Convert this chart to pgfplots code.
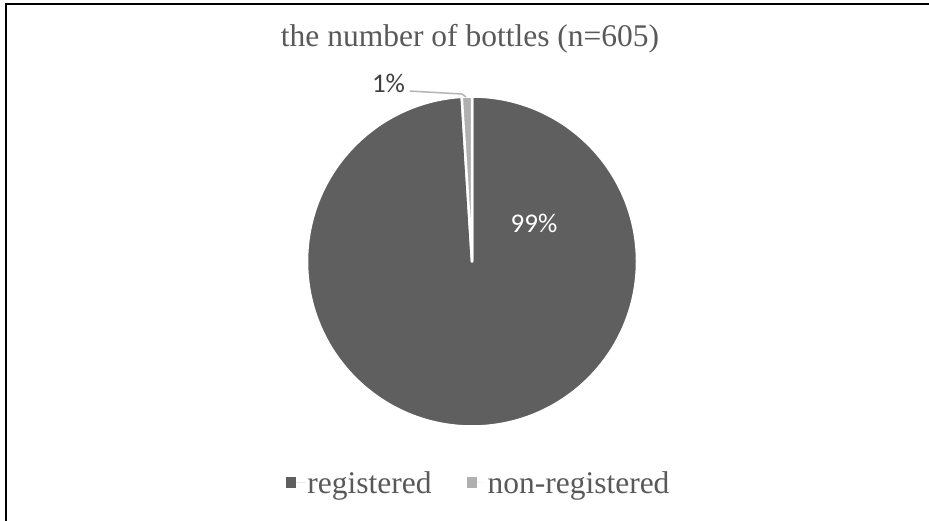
\documentclass[border=0pt]{standalone}
\usepackage{pgfplots}
\pgfplotsset{compat=1.18}
\usepackage{pgfplotstable}
\usepackage{fontspec}
\setmainfont{Liberation Serif}
\newfontfamily\calibri{Carlito}
\definecolor{darkslice}{HTML}{5F5F5F}
\definecolor{lightslice}{HTML}{B0B0B0}
\definecolor{txtgray}{HTML}{595959}
\definecolor{lblgray}{HTML}{404040}
\definecolor{leader}{HTML}{B4B4B4}

\pgfplotstableread{
label value
registered 599
non-registered 6
}\piedata

\begin{document}
\begin{tikzpicture}
\useasboundingbox (0,0) rectangle (929bp,521bp);
\fill[white] (0,0) rectangle (929bp,521bp);
\draw[line width=2bp, black] (5.5bp,0) -- (5.5bp,516.5bp) -- (929bp,516.5bp);
\pgfplotstablegetelem{0}{value}\of\piedata \let\va\pgfplotsretval
\pgfplotstablegetelem{1}{value}\of\piedata \let\vb\pgfplotsretval
\pgfmathsetmacro\total{\va+\vb}
\pgfmathsetmacro\frac{\va/\total}
\pgfmathsetmacro\angA{90-360*\frac}
\begin{axis}[
  at={(472bp,259.5bp)}, anchor=center,
  width=330bp, height=330bp, scale only axis,
  xmin=-1, xmax=1, ymin=-1, ymax=1,
  hide axis, clip=false,
  title={the number of bottles (n=605)},
  title style={at={(0.494,1.132)}, anchor=base, font=\fontsize{31.5bp}{36bp}\selectfont, text=txtgray},
  legend style={at={(0.521,-0.171)}, anchor=center, draw=none, fill=none,
    legend columns=-1, font=\fontsize{31.5bp}{36bp}\selectfont, text=txtgray,
    /tikz/every even column/.append style={column sep=33bp}},
  legend image code/.code={\fill[#1] (0bp,-5bp) rectangle (10bp,6bp); \path (0bp,0bp) -- (19bp,0bp);},
]
\addlegendimage{fill=darkslice, draw=none}
\addlegendentry{registered}
\addlegendimage{fill=lightslice, draw=none}
\addlegendentry{non-registered}
\fill[darkslice, draw=white, line width=2.5bp, line join=round]
  (axis cs:0,0) -- (axis cs:0,1) arc[start angle=90, end angle=\angA, radius=1] -- cycle;
\fill[lightslice, draw=white, line width=2.5bp, line join=round]
  (axis cs:0,0) -- (axis cs:{cos(\angA)},{sin(\angA)}) arc[start angle=\angA, end angle=-270, radius=1] -- cycle;
\draw[leader, line width=1.5bp] (axis cs:-0.376,1.033) -- (axis cs:-0.0606,1.015) -- (axis cs:-0.036,0.997);
\node[font=\calibri\fontsize{27bp}{32bp}\selectfont, text=lblgray] at (axis cs:-0.506,1.079) {1\%};
\node[font=\calibri\fontsize{27bp}{32bp}\selectfont, text=white] at (axis cs:0.376,0.233) {99\%};
\end{axis}
\end{tikzpicture}
\end{document}
